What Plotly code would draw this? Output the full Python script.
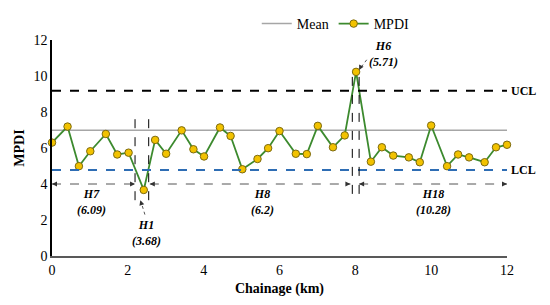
import plotly.graph_objects as go

# chainage (km) and MPDI values
chainage = [0, 0.41, 0.71, 1.01, 1.42, 1.72, 2.02, 2.42, 2.72, 3.01, 3.42, 3.73, 4.01,
            4.43, 4.71, 5.02, 5.42, 5.70, 6.00, 6.43, 6.72, 7.01, 7.41, 7.72, 8.02,
            8.41, 8.70, 9.00, 9.41, 9.70, 10.00, 10.42, 10.71, 11.00, 11.41, 11.71, 12.0]
mpdi = [6.30, 7.19, 4.99, 5.82, 6.78, 5.64, 5.74, 3.67, 6.45, 5.68, 6.98, 5.93, 5.53,
        7.14, 6.67, 4.82, 5.39, 5.99, 6.94, 5.68, 5.66, 7.23, 6.04, 6.70, 10.23,
        5.24, 6.04, 5.58, 5.48, 5.21, 7.25, 4.99, 5.64, 5.48, 5.21, 6.04, 6.18]

mean_val = 6.98
ucl = 9.18
lcl = 4.78
x_span = [0, 12]

# homogeneous section boundaries (km)
seg_lines = [2.19, 2.55, 7.92, 8.10]
seg_ranges = [(0, 2.19), (2.58, 7.87), (8.10, 12.0)]
seg_labels = ["H7<br>(6.09)", "H8<br>(6.2)", "H18<br>(10.28)"]
seg_label_x = [1.05, 5.55, 10.07]

FONT = "Liberation Serif"
GREEN = "#3C8A2E"

fig = go.Figure()

fig.add_trace(go.Scatter(x=x_span, y=[mean_val, mean_val], mode="lines",
                         line=dict(color="#A6A6A6", width=1.5), name="Mean"))
fig.add_trace(go.Scatter(x=chainage, y=mpdi, mode="lines+markers", name="MPDI",
                         line=dict(color=GREEN, width=1.8),
                         marker=dict(color="#F2C200", size=7.5, line=dict(color="#7C6A10", width=1)),
                         cliponaxis=False))
fig.add_trace(go.Scatter(x=x_span, y=[ucl, ucl], mode="lines", showlegend=False,
                         line=dict(color="black", width=2, dash="dash")))
fig.add_trace(go.Scatter(x=x_span, y=[lcl, lcl], mode="lines", showlegend=False,
                         line=dict(color="#2E6DB4", width=2, dash="dash")))

# vertical boundary lines
tops = [7.85, 7.85, 10.25, 10.25]
bots = [3.1, 3.1, 3.45, 3.45]
for xv, t, b in zip(seg_lines, tops, bots):
    fig.add_shape(type="line", x0=xv, x1=xv, y0=b, y1=t,
                  line=dict(color="black", width=1, dash="dash"))

# section arrows at y = 4
arr_y = 4.0
for (a, b), lab, lx in zip(seg_ranges, seg_labels, seg_label_x):
    fig.add_shape(type="line", x0=a, x1=b, y0=arr_y, y1=arr_y,
                  line=dict(color="#555555", width=1, dash="dash"))
    for tip, tail in [(a, a + 0.15), (b, b - 0.15)]:
        fig.add_annotation(x=tip, y=arr_y, ax=tail, ay=arr_y, axref="x", ayref="y",
                           text="", showarrow=True, arrowhead=2, arrowsize=1,
                           arrowwidth=1, arrowcolor="#333333")
    fig.add_annotation(x=lx, y=3.0, text="<b><i>" + lab + "</i></b>", showarrow=False,
                       font=dict(family=FONT, size=12, color="black"))

# H1 and H6 callouts
fig.add_shape(type="line", x0=2.45, x1=2.35, y0=2.3, y1=3.0,
              line=dict(color="#555555", width=1, dash="dot"))
fig.add_annotation(x=2.33, y=3.1, ax=2.36, ay=2.9, axref="x", ayref="y", text="",
                   showarrow=True, arrowhead=2, arrowsize=1, arrowwidth=1, arrowcolor="#333333")
fig.add_annotation(x=2.5, y=1.3, text="<b><i>H1<br>(3.68)</i></b>", showarrow=False,
                   font=dict(family=FONT, size=12, color="black"))

fig.add_shape(type="line", x0=8.3, x1=8.12, y0=10.9, y1=10.4,
              line=dict(color="#555555", width=1, dash="dot"))
fig.add_annotation(x=8.1, y=10.33, ax=8.14, ay=10.5, axref="x", ayref="y", text="",
                   showarrow=True, arrowhead=2, arrowsize=1, arrowwidth=1, arrowcolor="#333333")
fig.add_annotation(x=8.75, y=11.2, text="<b><i>H6<br>(5.71)</i></b>", showarrow=False,
                   font=dict(family=FONT, size=12, color="black"))

# UCL / LCL labels
fig.add_annotation(x=1.005, y=ucl, xref="paper", text="<b>UCL</b>", showarrow=False,
                   xanchor="left", font=dict(family=FONT, size=12, color="black"))
fig.add_annotation(x=1.005, y=lcl, xref="paper", text="<b>LCL</b>", showarrow=False,
                   xanchor="left", font=dict(family=FONT, size=12, color="black"))

fig.update_xaxes(range=[0, 12], dtick=2, showgrid=False, zeroline=False, automargin=False,
                 showline=True, linecolor="#595959", linewidth=2, ticks="",
                 title=dict(text="<b>Chainage (km)</b>", standoff=6,
                            font=dict(family=FONT, size=14, color="black")),
                 tickfont=dict(family=FONT, size=14, color="black"))
fig.update_yaxes(range=[0, 12], dtick=2, showgrid=False, zeroline=False, automargin=False,
                 showline=True, linecolor="black", linewidth=1.5, ticks="",
                 title=dict(text="<b>MPDI</b>", standoff=6,
                            font=dict(family=FONT, size=14, color="black")),
                 tickfont=dict(family=FONT, size=14, color="black"))

# page body has an 8px margin, so the figure is shrunk and margins shifted by 8px
fig.update_layout(
    width=542, height=297,
    margin=dict(l=44, r=43, t=29, b=49),
    plot_bgcolor="white", paper_bgcolor="white",
    font=dict(family=FONT, size=14, color="black"),
    legend=dict(orientation="h", x=0.45, y=1.0, yref="container",
                xanchor="left", yanchor="top",
                font=dict(family=FONT, size=14, color="black"),
                bgcolor="rgba(0,0,0,0)", itemwidth=30),
)

fig.write_html("out.html")
